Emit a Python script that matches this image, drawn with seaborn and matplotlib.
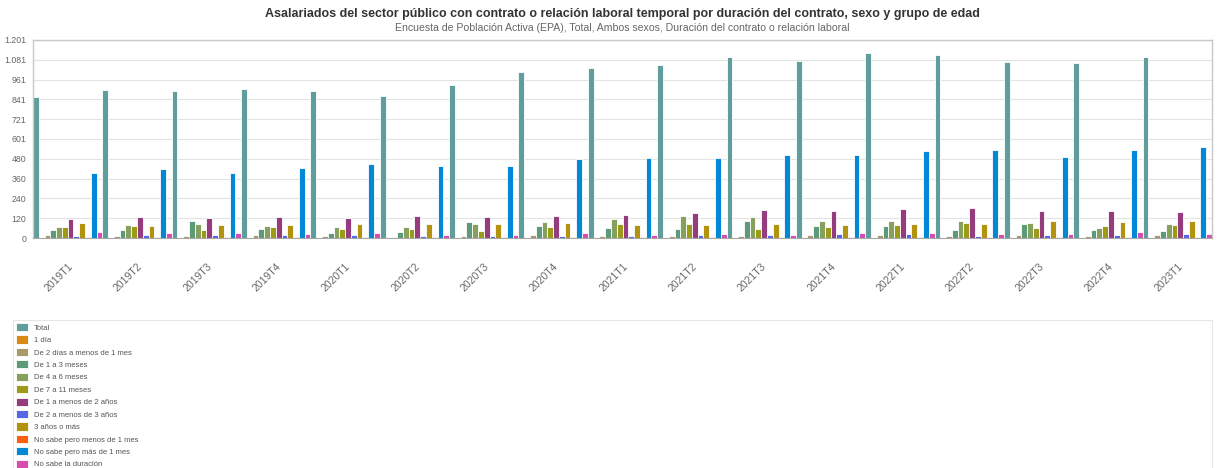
import pandas as pd
import matplotlib
matplotlib.use('Agg')
import matplotlib.pyplot as plt
import seaborn as sns
from matplotlib.ticker import FixedLocator

periodos = ['2019T1', '2019T2', '2019T3', '2019T4', '2020T1', '2020T2', '2020T3', '2020T4',
            '2021T1', '2021T2', '2021T3', '2021T4', '2022T1', '2022T2', '2022T3', '2022T4', '2023T1']

total = [858, 897, 891, 903, 891, 860, 927, 1006, 1030, 1048, 1097, 1073, 1121, 1109, 1069, 1059, 1095]
uno_dia = [1, 0, 1, 1, 0, 1, 0, 1, 1, 0, 1, 1, 1, 0, 1, 1, 0]
dos_dias = [18, 14, 10, 18, 14, 4, 10, 18, 12, 12, 10, 16, 18, 12, 16, 14, 16]
uno_tres = [51, 47, 101, 53, 30, 39, 95, 75, 61, 55, 101, 75, 71, 49, 87, 51, 41]
cuatro_seis = [67, 79, 85, 75, 69, 67, 85, 97, 114, 132, 128, 104, 104, 106, 93, 61, 85]
siete_once = [65, 75, 49, 65, 55, 57, 43, 65, 87, 83, 55, 67, 79, 91, 61, 71, 77]
uno_dos_anos = [116, 130, 124, 128, 120, 132, 126, 132, 140, 152, 170, 164, 177, 181, 166, 162, 156]
dos_tres_anos = [12, 18, 18, 20, 16, 10, 12, 12, 12, 18, 18, 22, 22, 12, 20, 18, 22]
tres_mas = [89, 75, 81, 81, 87, 85, 87, 89, 79, 81, 83, 79, 83, 83, 106, 97, 104]
ns_menos_mes = [6, 6, 4, 5, 6, 4, 5, 5, 4, 5, 5, 4, 5, 5, 4, 5, 4]
ns_mas_mes = [392, 416, 392, 426, 449, 436, 436, 477, 487, 487, 501, 501, 528, 532, 491, 533, 550]
ns_duracion = [39, 32, 28, 24, 32, 18, 20, 28, 20, 24, 20, 28, 30, 26, 24, 34, 26]

series = {
    'Total': total,
    '1 día': uno_dia,
    'De 2 días a menos de 1 mes': dos_dias,
    'De 1 a 3 meses': uno_tres,
    'De 4 a 6 meses': cuatro_seis,
    'De 7 a 11 meses': siete_once,
    'De 1 a menos de 2 años': uno_dos_anos,
    'De 2 a menos de 3 años': dos_tres_anos,
    '3 años o más': tres_mas,
    'No sabe pero menos de 1 mes': ns_menos_mes,
    'No sabe pero más de 1 mes': ns_mas_mes,
    'No sabe la duración': ns_duracion,
}
colores = ['#5f9e9a', '#d98a14', '#a89a6a', '#5c9a78', '#86a05e', '#9c9a18',
           '#953c7e', '#5566e6', '#b3920f', '#ff6010', '#0288d4', '#d84cad']

df = pd.DataFrame([
    {'periodo': p, 'duracion': k, 'valor': v}
    for k, vals in series.items() for p, v in zip(periodos, vals)
])

sns.set_style('white')
plt.rcParams['font.family'] = ['Liberation Sans', 'DejaVu Sans']

W, H = 1221, 468
fig = plt.figure(figsize=(W / 100, H / 100), dpi=100)
ax = fig.add_axes([33 / W, 1 - 238 / H, (1212 - 33) / W, (238 - 40) / H])

sns.barplot(data=df, x='periodo', y='valor', hue='duracion', order=periodos,
            hue_order=list(series.keys()), palette=colores, saturation=1,
            width=1.0, gap=0, edgecolor='white', linewidth=0.6, ax=ax)

ax.set_xlim(-0.5, len(periodos) - 0.5)
ax.set_ylim(0, 1201)
yt = [0, 120, 240, 360, 480, 601, 721, 841, 961, 1081, 1201]
ax.set_yticks(yt)
ax.set_yticklabels([f'{v:,}'.replace(',', '.') for v in yt], fontsize=6.3, color='#666666')
ax.yaxis.grid(True, color='#e3e3e3', linewidth=0.8)
ax.set_axisbelow(True)
ax.tick_params(axis='y', length=0, pad=5)

ax.set_xticks(range(len(periodos)))
ax.set_xticklabels(periodos, rotation=45, ha='right', rotation_mode='anchor',
                   fontsize=7.5, color='#666666')
ax.tick_params(axis='x', length=0, pad=17)
ax.xaxis.set_minor_locator(FixedLocator([i + 0.5 for i in range(-1, len(periodos))]))
ax.tick_params(axis='x', which='minor', length=4, color='#b0b0b0', width=0.8)

ax.set_xlabel('')
ax.set_ylabel('')
for s in ['top', 'right', 'left']:
    ax.spines[s].set_color('#c8c8c8')
    ax.spines[s].set_linewidth(1)
ax.spines['bottom'].set_color('#a8a8a8')

handles, labels = ax.get_legend_handles_labels()
ax.get_legend().remove()
leg = fig.legend(handles, labels, loc='upper left',
                 bbox_to_anchor=(13 / W, 0, (1212 - 13) / W, 1 - 320 / H),
                 bbox_transform=fig.transFigure, mode='expand', ncol=1,
                 fontsize=5.5, frameon=True, fancybox=False, borderaxespad=0,
                 handlelength=1.6, handleheight=1.25, handletextpad=0.7,
                 labelspacing=0.5, borderpad=0.4)
leg.get_frame().set_edgecolor('#e0e0e0')
leg.get_frame().set_linewidth(0.8)
for t in leg.get_texts():
    t.set_color('#555555')

cx = (33 + 1212) / 2 / W
fig.text(cx, 1 - 13.5 / H, 'Asalariados del sector público con contrato o relación laboral temporal '
         'por duración del contrato, sexo y grupo de edad',
         ha='center', va='center', fontsize=9, fontweight='bold', color='#333333')
fig.text(cx, 1 - 28 / H, 'Encuesta de Población Activa (EPA), Total, Ambos sexos, '
         'Duración del contrato o relación laboral',
         ha='center', va='center', fontsize=7.6, color='#666666')

plt.savefig('out.png', dpi=100)
plt.close()
